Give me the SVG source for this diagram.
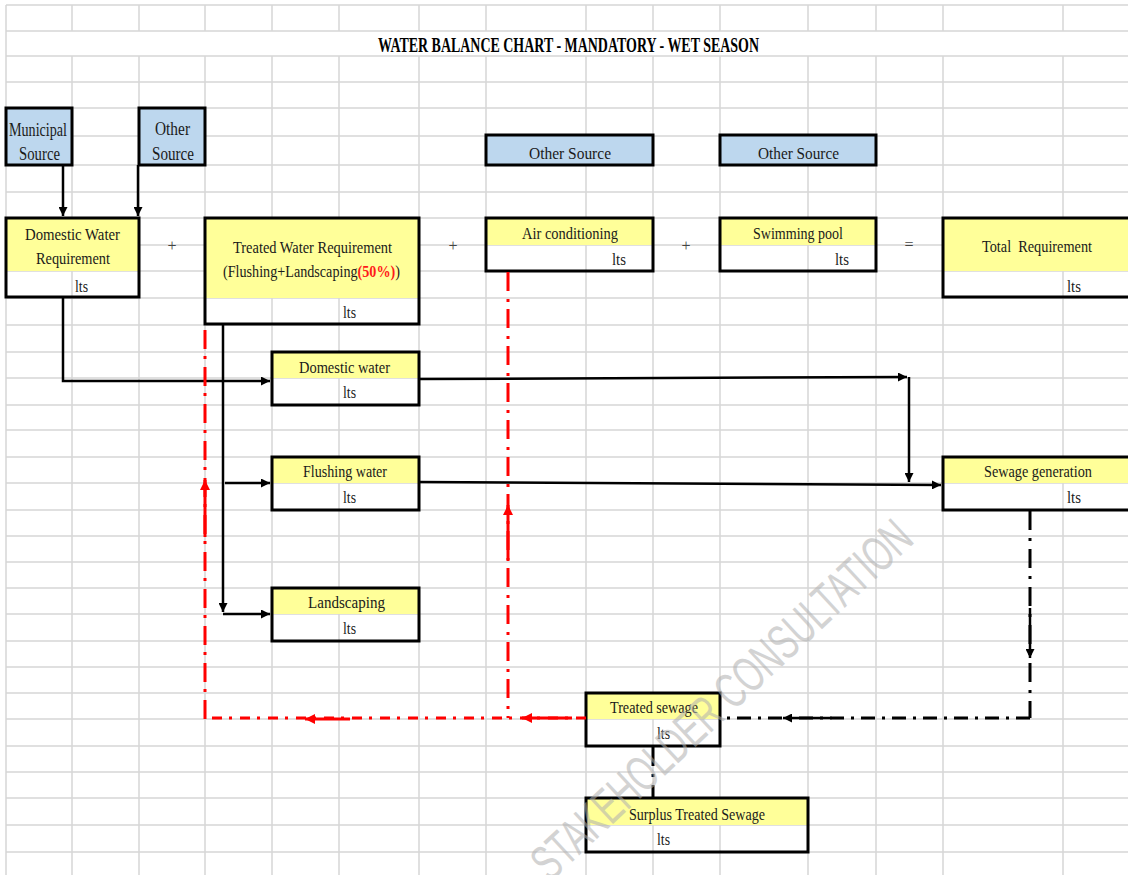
<svg xmlns="http://www.w3.org/2000/svg" width="1128" height="875" viewBox="0 0 1128 875">
  <style>
    .grid line { stroke: #d6d6d6; stroke-width: 1.5; }
    .frame { fill: none; stroke: #000; stroke-width: 3; }
    .yel { fill: #ffff99; stroke: none; }
    .blu { fill: #bdd7ee; stroke: #000; stroke-width: 3; }
    text { font-family: "Liberation Serif", "Times New Roman", serif; fill: #1a1a1a; font-size: 17.5px; }
    .big { font-size: 18.5px; }
    .title { font-weight: bold; font-size: 20px; fill: #000; }
    .pct { fill: #ff1a1a; font-weight: bold; }
    .op { font-size: 16px; fill: #444; text-anchor: middle; }
    .solid { fill: none; stroke: #000; stroke-width: 2.5; }
    .ddv { fill: none; stroke: #000; stroke-width: 3; stroke-dasharray: 19 8 3 8; }
    .ddh { fill: none; stroke: #000; stroke-width: 3; stroke-dasharray: 14 7 3 7; }
    .rdv { fill: none; stroke: #f00; stroke-width: 3; stroke-dasharray: 19 8 3 7; }
    .rdh { fill: none; stroke: #f00; stroke-width: 3; stroke-dasharray: 10 8 3 7; }
    .rsolid { fill: none; stroke: #f00; stroke-width: 3; }
    .wm { font-family: "Liberation Sans", Arial, sans-serif; font-size: 50px; fill: #b0b0b0; opacity: 0.55; }
  </style>
  <defs>
    <marker id="arr" viewBox="0 0 10 10" refX="10" refY="5" markerWidth="10" markerHeight="9" markerUnits="userSpaceOnUse" orient="auto">
      <path d="M0,0 L10,5 L0,10 z" fill="#000"/>
    </marker>
    <marker id="arrR" viewBox="0 0 10 10" refX="10" refY="5" markerWidth="11" markerHeight="10" markerUnits="userSpaceOnUse" orient="auto">
      <path d="M0,0 L10,5 L0,10 z" fill="#f00"/>
    </marker>
  </defs>

  <rect width="1128" height="875" fill="#fff"/>

  <!-- spreadsheet cell grid -->
  <g class="grid">
    <line x1="6" y1="5" x2="1128" y2="5"/>
    <line x1="6" y1="31" x2="1128" y2="31"/>
    <line x1="6" y1="56" x2="1128" y2="56"/>
    <line x1="6" y1="82" x2="1128" y2="82"/>
    <line x1="6" y1="108" x2="1128" y2="108"/>
    <line x1="6" y1="136" x2="1128" y2="136"/>
    <line x1="6" y1="165" x2="1128" y2="165"/>
    <line x1="6" y1="192" x2="1128" y2="192"/>
    <line x1="6" y1="218" x2="1128" y2="218"/>
    <line x1="6" y1="245" x2="1128" y2="245"/>
    <line x1="6" y1="271" x2="1128" y2="271"/>
    <line x1="6" y1="298" x2="1128" y2="298"/>
    <line x1="6" y1="325" x2="1128" y2="325"/>
    <line x1="6" y1="352" x2="1128" y2="352"/>
    <line x1="6" y1="378" x2="1128" y2="378"/>
    <line x1="6" y1="405" x2="1128" y2="405"/>
    <line x1="6" y1="430" x2="1128" y2="430"/>
    <line x1="6" y1="457" x2="1128" y2="457"/>
    <line x1="6" y1="483" x2="1128" y2="483"/>
    <line x1="6" y1="510" x2="1128" y2="510"/>
    <line x1="6" y1="536" x2="1128" y2="536"/>
    <line x1="6" y1="562" x2="1128" y2="562"/>
    <line x1="6" y1="588" x2="1128" y2="588"/>
    <line x1="6" y1="614" x2="1128" y2="614"/>
    <line x1="6" y1="641" x2="1128" y2="641"/>
    <line x1="6" y1="667" x2="1128" y2="667"/>
    <line x1="6" y1="693" x2="1128" y2="693"/>
    <line x1="6" y1="719" x2="1128" y2="719"/>
    <line x1="6" y1="746" x2="1128" y2="746"/>
    <line x1="6" y1="772" x2="1128" y2="772"/>
    <line x1="6" y1="798" x2="1128" y2="798"/>
    <line x1="6" y1="825" x2="1128" y2="825"/>
    <line x1="6" y1="852" x2="1128" y2="852"/>
    <path d="M72,5V31M72,56V875M139,5V31M139,56V875M205,5V31M205,56V875M272,5V31M272,56V875M339,5V31M339,56V875M419,5V31M419,56V875M486,5V31M486,56V875M586,5V31M586,56V875M653,5V31M653,56V875M720,5V31M720,56V875M808,5V31M808,56V875M876,5V31M876,56V875M943,5V31M943,56V875M1063,5V31M1063,56V875" stroke="#d6d6d6" stroke-width="1.5" fill="none"/>
    <line x1="6" y1="5" x2="6" y2="875" stroke="#3a3aff" stroke-width="1"/>
  </g>

  <text class="title" x="378" y="52" textLength="381" lengthAdjust="spacingAndGlyphs">WATER BALANCE CHART - MANDATORY - WET SEASON</text>

  <!-- sources -->
  <g id="n-municipal">
    <rect class="blu" x="6" y="108" width="66" height="57"/>
    <text class="big" x="9" y="136" textLength="58" lengthAdjust="spacingAndGlyphs">Municipal</text>
    <text class="big" x="19" y="160" textLength="41" lengthAdjust="spacingAndGlyphs">Source</text>
  </g>
  <g id="n-other-source-1">
    <rect class="blu" x="139" y="108" width="66" height="57"/>
    <text class="big" x="155" y="135" textLength="35" lengthAdjust="spacingAndGlyphs">Other</text>
    <text class="big" x="152" y="160" textLength="42" lengthAdjust="spacingAndGlyphs">Source</text>
  </g>
  <g id="n-other-source-2">
    <rect class="blu" x="486" y="135" width="167" height="30"/>
    <text x="529" y="159" textLength="82" lengthAdjust="spacingAndGlyphs">Other Source</text>
  </g>
  <g id="n-other-source-3">
    <rect class="blu" x="720" y="135" width="156" height="30"/>
    <text x="758" y="159" textLength="81" lengthAdjust="spacingAndGlyphs">Other Source</text>
  </g>

  <!-- requirement row -->
  <g id="n-domestic-requirement">
    <rect class="yel" x="6" y="218" width="133" height="53"/>
    <rect class="frame" x="6" y="218" width="133" height="79"/>
    <text x="25" y="240" textLength="95" lengthAdjust="spacingAndGlyphs">Domestic Water</text>
    <text x="36" y="264" textLength="74" lengthAdjust="spacingAndGlyphs">Requirement</text>
    <text x="75" y="292" textLength="13" lengthAdjust="spacingAndGlyphs">lts</text>
  </g>
  <g id="n-treated-requirement">
    <rect class="yel" x="205" y="218" width="214" height="80"/>
    <rect class="frame" x="205" y="218" width="214" height="106"/>
    <text x="233" y="253" textLength="159" lengthAdjust="spacingAndGlyphs">Treated Water Requirement</text>
    <text x="223" y="277" textLength="177" lengthAdjust="spacingAndGlyphs">(Flushing+Landscaping<tspan class="pct">(50%)</tspan>)</text>
    <text x="343" y="318" textLength="13" lengthAdjust="spacingAndGlyphs">lts</text>
  </g>
  <g id="n-air-conditioning">
    <rect class="yel" x="486" y="218" width="167" height="27"/>
    <rect class="frame" x="486" y="218" width="167" height="53"/>
    <text x="522" y="239" textLength="96" lengthAdjust="spacingAndGlyphs">Air conditioning</text>
    <text x="612" y="265" textLength="14" lengthAdjust="spacingAndGlyphs">lts</text>
  </g>
  <g id="n-swimming-pool">
    <rect class="yel" x="720" y="218" width="156" height="27"/>
    <rect class="frame" x="720" y="218" width="156" height="53"/>
    <text x="753" y="239" textLength="90" lengthAdjust="spacingAndGlyphs">Swimming pool</text>
    <text x="835" y="265" textLength="14" lengthAdjust="spacingAndGlyphs">lts</text>
  </g>
  <g id="n-total-requirement">
    <rect class="yel" x="943" y="218" width="190" height="53"/>
    <rect class="frame" x="943" y="218" width="190" height="79"/>
    <text x="982" y="252" textLength="110" lengthAdjust="spacingAndGlyphs" xml:space="preserve">Total  Requirement</text>
    <text x="1067" y="292" textLength="14" lengthAdjust="spacingAndGlyphs">lts</text>
  </g>

  <g id="operators">
    <text class="op" x="172" y="251">+</text>
    <text class="op" x="453" y="251">+</text>
    <text class="op" x="686" y="251">+</text>
    <text class="op" x="909" y="250">=</text>
  </g>

  <!-- uses -->
  <g id="n-domestic-water">
    <rect class="yel" x="272" y="352" width="147" height="26"/>
    <rect class="frame" x="272" y="352" width="147" height="53"/>
    <text x="299" y="373" textLength="91" lengthAdjust="spacingAndGlyphs">Domestic water</text>
    <text x="343" y="398" textLength="13" lengthAdjust="spacingAndGlyphs">lts</text>
  </g>
  <g id="n-flushing-water">
    <rect class="yel" x="272" y="457" width="147" height="26"/>
    <rect class="frame" x="272" y="457" width="147" height="53"/>
    <text x="303" y="477" textLength="84" lengthAdjust="spacingAndGlyphs">Flushing water</text>
    <text x="343" y="503" textLength="13" lengthAdjust="spacingAndGlyphs">lts</text>
  </g>
  <g id="n-landscaping">
    <rect class="yel" x="272" y="588" width="147" height="26"/>
    <rect class="frame" x="272" y="588" width="147" height="53"/>
    <text x="308" y="608" textLength="77" lengthAdjust="spacingAndGlyphs">Landscaping</text>
    <text x="343" y="634" textLength="13" lengthAdjust="spacingAndGlyphs">lts</text>
  </g>
  <g id="n-sewage-generation">
    <rect class="yel" x="943" y="457" width="190" height="26"/>
    <rect class="frame" x="943" y="457" width="190" height="53"/>
    <text x="984" y="477" textLength="108" lengthAdjust="spacingAndGlyphs">Sewage generation</text>
    <text x="1067" y="503" textLength="14" lengthAdjust="spacingAndGlyphs">lts</text>
  </g>
  <g id="n-treated-sewage">
    <rect class="yel" x="586" y="693" width="134" height="26"/>
    <rect class="frame" x="586" y="693" width="134" height="53"/>
    <text x="610" y="713" textLength="88" lengthAdjust="spacingAndGlyphs">Treated sewage</text>
    <text x="657" y="739" textLength="13" lengthAdjust="spacingAndGlyphs">lts</text>
  </g>
  <g id="n-surplus">
    <rect class="yel" x="586" y="798" width="222" height="27"/>
    <rect class="frame" x="586" y="798" width="222" height="54"/>
    <text x="629" y="820" textLength="136" lengthAdjust="spacingAndGlyphs">Surplus Treated Sewage</text>
    <text x="657" y="845" textLength="13" lengthAdjust="spacingAndGlyphs">lts</text>
  </g>

  <!-- flows -->
  <g id="connectors">
    <path class="solid" d="M63,165V216" marker-end="url(#arr)"/>
    <path class="solid" d="M138,165V216" marker-end="url(#arr)"/>
    <path class="solid" d="M63,297V381H270" marker-end="url(#arr)"/>
    <path class="solid" d="M223,324V612" marker-end="url(#arr)"/>
    <path class="solid" d="M223,614H270" marker-end="url(#arr)"/>
    <path class="solid" d="M225,483H270" marker-end="url(#arr)"/>
    <path class="solid" d="M419,379L907,377" marker-end="url(#arr)"/>
    <path class="solid" d="M909,377V482" marker-end="url(#arr)"/>
    <path class="solid" d="M419,482L941,485" marker-end="url(#arr)"/>

    <!-- sewage to treatment -->
    <path class="ddv" d="M1030,511V718"/>
    <path class="ddh" d="M1030,718H722"/>
    <path class="solid" d="M1030,608V658" marker-end="url(#arr)"/>
    <path class="solid" d="M832,718H783" marker-end="url(#arr)"/>
    <path class="ddv" d="M653,747V798"/>

    <!-- treated water recycled -->
    <path class="rdh" d="M586,718H205"/>
    <path class="rdv" d="M205,719V325"/>
    <path class="rdv" d="M508,272V718"/>
    <path class="rsolid" d="M572,718H522" marker-end="url(#arrR)"/>
    <path class="rsolid" d="M350,719H305" marker-end="url(#arrR)"/>
    <path class="rsolid" d="M205,537V480" marker-end="url(#arrR)"/>
    <path class="rsolid" d="M508,560V505" marker-end="url(#arrR)"/>
  </g>

  <text class="wm" x="0" y="0" text-anchor="middle" textLength="500" lengthAdjust="spacingAndGlyphs" transform="translate(733,712) rotate(-43)">STAKEHOLDER CONSULTATION</text>
</svg>
